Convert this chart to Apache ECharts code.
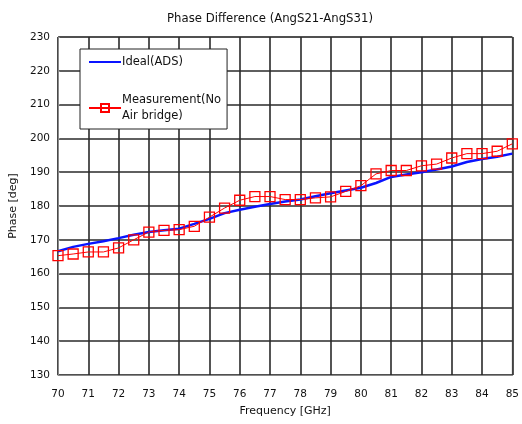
<!DOCTYPE html>
<html>
<head>
<meta charset="utf-8">
<script src="https://cdn.jsdelivr.net/npm/echarts@6/dist/echarts.min.js"></script>
<style>html,body{margin:0;padding:0;background:#fff}#c{width:522px;height:424px}</style>
</head>
<body>
<div id="c"></div>
<script>
var freqs = [70,70.5,71,71.5,72,72.5,73,73.5,74,74.5,75,75.5,76,76.5,77,77.5,78,78.5,79,79.5,80,80.5,81,81.5,82,82.5,83,83.5,84,84.5,85];
var ideal = [166.6,167.9,168.8,169.6,170.5,171.5,172.3,172.8,173.3,174.7,176.2,177.9,178.9,179.8,180.6,181.3,181.9,182.9,183.8,184.6,185.4,186.8,188.6,189.3,190.0,190.8,191.7,193.0,193.9,194.6,195.5];
var measured = [165.3,165.8,166.4,166.4,167.6,170.0,172.3,172.8,173.0,174.0,176.7,179.4,181.7,182.8,182.8,181.9,181.9,182.4,182.7,184.3,186.0,189.5,190.5,190.5,191.9,192.4,194.2,195.5,195.5,196.2,198.4];
var xTicks = [70,71,72,73,74,75,76,77,78,79,80,81,82,83,84,85];
var yTicks = [130,140,150,160,170,180,190,200,210,220,230];
var seriesNames = ['Ideal(ADS)', 'Measurement(No\nAir bridge)'];

function pairs(xs, ys){ return xs.map(function(x,i){ return [x, ys[i]]; }); }

var font = 'DejaVu Sans';
var chart = echarts.init(document.getElementById('c'), null, {renderer:'canvas'});
chart.setOption({
  animation: false,
  backgroundColor: '#fff',
  title: {
    text: 'Phase Difference (AngS21-AngS31)',
    left: 265, top: 8, textAlign: 'center',
    textStyle: {fontFamily: font, fontSize: 11.7, fontWeight: 'normal', color: '#111'}
  },
  grid: {left: 58, right: 5, top: 37, bottom: 49, show: true, borderColor: '#888', borderWidth: 1},
  legend: {
    orient: 'vertical', left: 80, top: 49,
    data: [
      {name: seriesNames[0], itemStyle: {opacity: 0}},
      {name: seriesNames[1]}
    ],
    backgroundColor: '#fff', borderColor: '#222', borderWidth: 1, borderRadius: 0,
    padding: [5, 6, 5, 8], itemWidth: 32, itemHeight: 10, itemGap: 22,
    textStyle: {fontFamily: font, fontSize: 11.5, color: '#111', lineHeight: 16, padding: [0,0,0,-4]}
  },
  xAxis: {
    type: 'value', min: 70, max: 85, interval: 1,
    name: 'Frequency [GHz]', nameLocation: 'middle', nameGap: 31,
    nameTextStyle: {fontFamily: font, fontSize: 11, color: '#111'},
    axisLine: {show: true, lineStyle: {color: '#888'}},
    axisTick: {show: false},
    axisLabel: {fontFamily: font, fontSize: 10.5, color: '#111', margin: 14,
      customValues: xTicks},
    splitLine: {show: true, lineStyle: {color: '#2a2a2a', width: 1.6}}
  },
  yAxis: {
    type: 'value', min: 130, max: 230, interval: 10,
    name: 'Phase [deg]', nameLocation: 'middle', nameGap: 39,
    nameTextStyle: {fontFamily: font, fontSize: 11, color: '#111'},
    axisLine: {show: true, lineStyle: {color: '#888'}},
    axisTick: {show: true, inside: true, length: 2, lineStyle: {color: '#888'}},
    axisLabel: {fontFamily: font, fontSize: 10.5, color: '#111', margin: 8},
    splitLine: {show: true, lineStyle: {color: '#2a2a2a', width: 1.6}}
  },
  series: [
    {
      name: seriesNames[0], type: 'line', data: pairs(freqs, ideal),
      symbol: 'none', lineStyle: {color: '#0a14ff', width: 2.5}, itemStyle: {color: '#0a14ff'},
      z: 2
    },
    {
      name: seriesNames[1], type: 'line', data: pairs(freqs, measured),
      symbol: 'rect', symbolSize: 10, showAllSymbol: true,
      lineStyle: {color: '#ff0000', width: 1},
      itemStyle: {color: 'rgba(255,255,255,0)', borderColor: '#ff0000', borderWidth: 1.3},
      z: 3
    }
  ]
});
</script>
</body>
</html>
